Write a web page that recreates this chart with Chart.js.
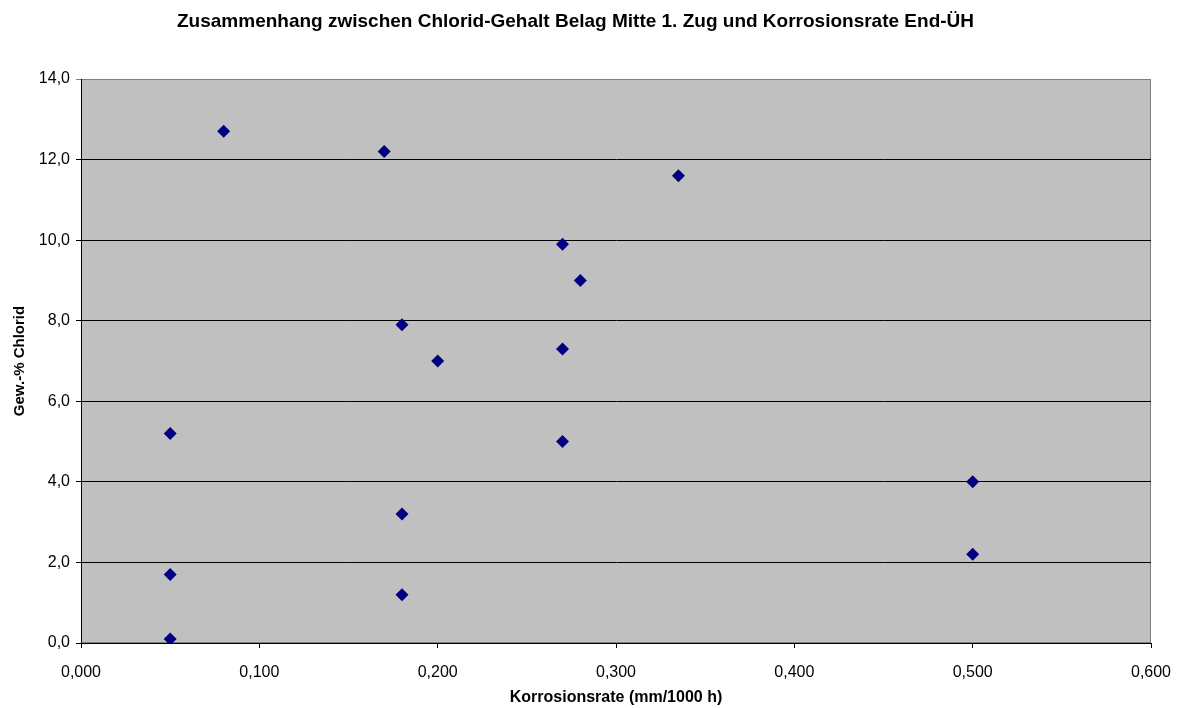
<!DOCTYPE html>
<html lang="de">
<head>
<meta charset="utf-8">
<title>Chlorid-Gehalt und Korrosionsrate</title>
<script src="https://cdn.jsdelivr.net/npm/chart.js@4"></script>
<style>
    html, body { margin: 0; padding: 0; background: #ffffff; }
    #wrap { width: 1181px; height: 708px; }
</style>
</head>
<body>
<div id="wrap"><canvas id="scatterChart" width="1181" height="708"></canvas></div>
<script>
// Messwerte: Korrosionsrate End-ÜH (mm/1000 h) und Chlorid im Belag (Gew.-%)
const korrosionsrate = [0.08, 0.17, 0.335, 0.27, 0.28, 0.18, 0.20, 0.27, 0.05, 0.27, 0.50, 0.18, 0.50, 0.05, 0.18, 0.05];
const chloridGehalt  = [12.7, 12.2, 11.6,  9.9,  9.0,  7.9,  7.0,  7.3,  5.2,  5.0,  4.0,  3.2,  2.2,  1.7,  1.2,  0.1];

const xTicks = [0, 0.1, 0.2, 0.3, 0.4, 0.5, 0.6];
const yTicks = [0, 2, 4, 6, 8, 10, 12, 14];

const FONT = "'Liberation Sans', Arial, sans-serif";

// grey plot background with a darker frame
const plotBackground = {
    id: 'plotBackground',
    beforeDraw(chart) {
        const { ctx, chartArea: a } = chart;
        ctx.save();
        ctx.fillStyle = '#c0c0c0';
        ctx.fillRect(a.left, a.top, a.right - a.left, a.bottom - a.top);
        ctx.strokeStyle = '#808080';
        ctx.lineWidth = 1;
        ctx.strokeRect(a.left + 0.5, a.top + 0.5, a.right - a.left - 1, a.bottom - a.top - 1);
        ctx.restore();
    }
};

function initChart() {
    const ctx = document.getElementById('scatterChart').getContext('2d');
    const points = korrosionsrate.map((x, i) => ({ x: x, y: chloridGehalt[i] }));

    new Chart(ctx, {
        type: 'scatter',
        data: {
            datasets: [{
                label: 'Chlorid',
                data: points,
                pointStyle: 'rectRot',
                pointRadius: 6.5,
                pointHoverRadius: 6.5,
                backgroundColor: '#000080',
                borderColor: '#000080',
                borderWidth: 0
            }]
        },
        plugins: [plotBackground],
        options: {
            responsive: false,
            animation: false,
            layout: { padding: { left: 0, right: 30, top: 0, bottom: 0 } },
            plugins: {
                legend: { display: false },
                tooltip: { enabled: false },
                title: {
                    display: true,
                    text: 'Zusammenhang zwischen Chlorid-Gehalt Belag Mitte 1. Zug und Korrosionsrate End-ÜH',
                    color: '#000000',
                    font: { family: FONT, size: 19, weight: 'bold' },
                    padding: { top: 10, bottom: 46.2 }
                }
            },
            scales: {
                x: {
                    type: 'linear',
                    min: 0,
                    max: 0.6,
                    afterFit: s => {
                        s.height = 65;
                        s.paddingRight = 0;
                        s.paddingLeft = 0;
                    },
                    afterBuildTicks: s => { s.ticks = xTicks.map(v => ({ value: v })); },
                    ticks: {
                        color: '#000000',
                        font: { family: FONT, size: 16 },
                        padding: 15,
                        maxRotation: 0,
                        callback: v => v.toFixed(3).replace('.', ',')
                    },
                    grid: {
                        drawOnChartArea: false,
                        drawTicks: true,
                        tickLength: 5,
                        color: '#000000'
                    },
                    border: { display: true, color: '#000000', width: 1 },
                    title: {
                        display: true,
                        text: 'Korrosionsrate (mm/1000 h)',
                        color: '#000000',
                        font: { family: FONT, size: 16, weight: 'bold' },
                        padding: { top: 4, bottom: 1 }
                    }
                },
                y: {
                    type: 'linear',
                    min: 0,
                    max: 14,
                    afterFit: s => { s.width = 81; },
                    afterBuildTicks: s => { s.ticks = yTicks.map(v => ({ value: v })); },
                    ticks: {
                        color: '#000000',
                        font: { family: FONT, size: 16 },
                        padding: 6,
                        callback: v => v.toFixed(1).replace('.', ',')
                    },
                    grid: {
                        drawTicks: true,
                        tickLength: 5,
                        color: c => (c.tick && c.tick.value === 14) ? '#808080' : '#000000'
                    },
                    border: { display: true, color: '#000000', width: 1 },
                    title: {
                        display: true,
                        text: 'Gew.-% Chlorid',
                        color: '#000000',
                        font: { family: FONT, size: 15, weight: 'bold' },
                        padding: { top: 11, bottom: 4 }
                    }
                }
            }
        }
    });
}

document.addEventListener('DOMContentLoaded', initChart);
</script>
</body>
</html>
